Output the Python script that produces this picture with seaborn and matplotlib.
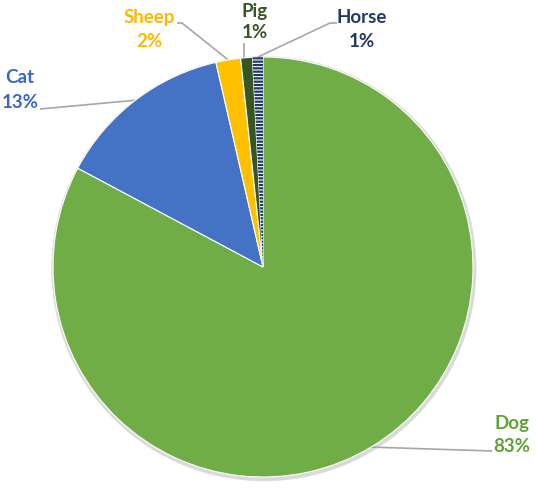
import numpy as np
import matplotlib
matplotlib.use("Agg")
import matplotlib.pyplot as plt
from matplotlib.patches import Circle
import seaborn as sns

categories = ["Dog", "Cat", "Sheep", "Pig", "Horse"]
values = [82.8, 13.6, 1.9, 0.9, 0.8]
pct_labels = ["83%", "13%", "2%", "1%", "1%"]
slice_colors = ["#70AD47", "#4472C4", "#FFC000", "#375623", "#FFFFFF"]
text_colors = ["#5EA334", "#3A67C2", "#FFB800", "#375623", "#1F3864"]

sns.set_theme(style="white")
plt.rcParams["font.family"] = ["Lato", "DejaVu Sans"]
plt.rcParams["hatch.linewidth"] = 1.6

W, H = 536, 491
fig = plt.figure(figsize=(W / 100, H / 100), dpi=100)
ax = fig.add_axes([0, 0, 1, 1])
cx, cy, R = 263, 267, 210

# soft shadow behind the pie
ax.add_patch(Circle((0.004, -0.008), 1.012, facecolor="#DADADA", edgecolor="none", zorder=0.2))
wedges, _ = ax.pie(values, colors=slice_colors, startangle=90, counterclock=False,
                   radius=1.0, wedgeprops=dict(edgecolor="white", linewidth=0.8))
ax.set_xlim(-cx / R, (W - cx) / R)
ax.set_ylim(-(H - cy) / R, cy / R)
ax.set_aspect("equal")
ax.axis("off")

horse = wedges[4]
horse.set_hatch("-----")
horse.set_edgecolor("#1F3864")
horse.set_linewidth(0)

# layout (pixels): label name / pct centres, leader line points, anchor fraction along wedge
name_px = {"Dog": (512, 423), "Cat": (20, 78), "Sheep": (149, 18), "Pig": (255, 12), "Horse": (362, 18)}
pct_px = {"Dog": (512, 447), "Cat": (20, 103), "Sheep": (149, 42), "Pig": (255, 33), "Horse": (362, 42)}
line_px = {"Dog": [(492, 451)], "Cat": [(40, 109)], "Sheep": [(177, 23), (182, 23)],
           "Pig": [(244, 43)], "Horse": [(337, 23), (330, 23)]}
anchor_frac = {"Dog": 0.5, "Cat": 0.5, "Sheep": 0.5, "Pig": 0.7, "Horse": 0.5}

def px2d(p):
    return ((p[0] - cx) / R, (cy - p[1]) / R)

for w, cat, pct, tc in zip(wedges, categories, pct_labels, text_colors):
    f = anchor_frac[cat]
    ang = np.deg2rad(w.theta1 + f * (w.theta2 - w.theta1))
    ex, ey = np.cos(ang), np.sin(ang)
    pts = [px2d(p) for p in line_px[cat]]
    if cat == "Pig":
        ex = pts[0][0]
        ey = np.sqrt(1 - ex * ex)
    xs = [p[0] for p in pts] + [ex]
    ys = [p[1] for p in pts] + [ey]
    ax.plot(xs, ys, color="#A6A6A6", lw=1.2, zorder=0.5, solid_capstyle="butt")
    nx, ny = px2d(name_px[cat])
    qx, qy = px2d(pct_px[cat])
    ax.text(nx, ny, cat, ha="center", va="center", color=tc, fontsize=13.5, fontweight="bold")
    ax.text(qx, qy, pct, ha="center", va="center", color=tc, fontsize=13.5, fontweight="bold")

fig.savefig("out.png", dpi=100)
